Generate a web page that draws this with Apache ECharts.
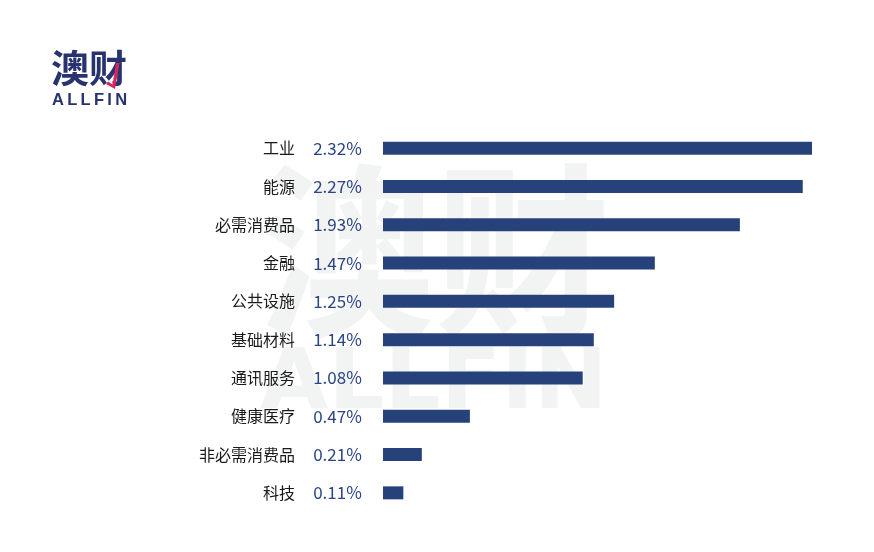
<!DOCTYPE html>
<html><head><meta charset="utf-8">
<script src="https://cdn.jsdelivr.net/npm/echarts@6/dist/echarts.min.js"></script>
<style>html,body{margin:0;padding:0;background:#fff}#c{width:874px;height:552px}</style>
</head><body><div id="c"></div>
<script>
const categories = ['工业','能源','必需消费品','金融','公共设施','基础材料','通讯服务','健康医疗','非必需消费品','科技'];
const values = [2.32, 2.27, 1.93, 1.47, 1.25, 1.14, 1.08, 0.47, 0.21, 0.11];
const valueLabels = ['2.32%','2.27%','1.93%','1.47%','1.25%','1.14%','1.08%','0.47%','0.21%','0.11%'];

const FONT = '"Noto Sans CJK SC", "Noto Sans", sans-serif';
const chart = echarts.init(document.getElementById('c'), null, {renderer:'canvas'});
chart.setOption({
  backgroundColor:'#ffffff',
  animation:false,
  graphic:[
    {type:'text', x:259, y:158, scaleX:0.945, z:-10, silent:true,
     style:{text:'澳财', fontSize:186, fontWeight:'bold', fontFamily:FONT, fill:'#f2f3f3', verticalAlign:'top'}},
    {type:'text', x:260, y:344, scaleX:1.05, z:-10, silent:true,
     style:{text:'ALLFIN', fontSize:84, fontWeight:'bold', fontFamily:'"DejaVu Sans", sans-serif', fill:'#f2f3f3', verticalAlign:'top'}},
    {type:'text', left:51, top:49, style:{text:'澳财', fontSize:38, fontWeight:'bold', fontFamily:FONT, fill:'#27326e'}},
    {type:'polygon', shape:{points:[[116,63],[119.5,63],[115,89],[106,84],[108,81.5],[112.5,84.5]]}, style:{fill:'#d9245c'}},
    {type:'text', left:52, top:92, style:{text:'A\u2009L\u2009L\u2009F\u2009I\u2009N', fontSize:16.5, fontWeight:'bold', fontFamily:'"Liberation Sans", Arial, sans-serif', fill:'#27326e'}}
  ],
  grid:{left:383, right:62, top:129, bottom:40, containLabel:false},
  xAxis:{type:'value', min:0, max:2.32, show:false},
  yAxis:{type:'category', data:categories, inverse:true,
    axisLine:{show:false}, axisTick:{show:false}, splitLine:{show:false},
    axisLabel:{margin:21, fontFamily:FONT,
      formatter:function(v, i){ return '{n|'+v+'}{v|'+valueLabels[i]+'}'; },
      rich:{
        n:{fontSize:16, color:'#1a1a1a', fontFamily:FONT, padding:[0,18,0,0]},
        v:{fontSize:17, color:'#2b4585', fontFamily:FONT, width:49, align:'left'}
      }}
  },
  series:[{type:'bar', data:values, barWidth:13,
    itemStyle:{color:'#27427a'}, silent:true}]
});
</script></body></html>
